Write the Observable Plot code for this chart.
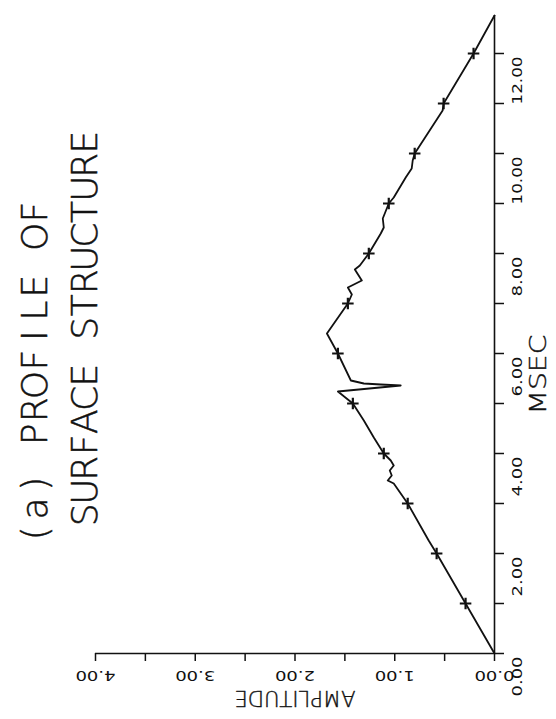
<!DOCTYPE html>
<html>
<head>
<meta charset="utf-8">
<script src="https://cdn.jsdelivr.net/npm/d3@7"></script>
<script src="https://cdn.jsdelivr.net/npm/@observablehq/plot@0.6"></script>
<style>
  html, body { margin: 0; padding: 0; background: #fff; }
  #chart svg { display: block; }
</style>
</head>
<body>
<div id="chart"></div>
<script>
// Profile curve: time (msec) and amplitude
const msec = [0.00, 1.00, 2.00, 2.26, 3.00, 3.40, 3.46, 3.56, 3.66, 3.76, 3.86, 4.00, 4.32, 4.66, 5.00,
  5.16, 5.24, 5.36, 5.38, 5.40, 5.46, 6.00, 6.40, 7.00, 7.18, 7.32, 7.46, 7.68, 7.76, 8.00, 8.40, 8.52,
  8.70, 9.00, 9.12, 9.52, 9.70, 9.86, 10.00, 10.86, 11.00, 12.00, 12.76];
const amplitude = [0.00, 0.29, 0.58, 0.66, 0.87, 1.01, 1.07, 1.03, 1.05, 1.01, 1.04, 1.11, 1.21, 1.31, 1.42,
  1.52, 1.57, 0.94, 1.14, 1.31, 1.44, 1.57, 1.68, 1.47, 1.43, 1.47, 1.33, 1.40, 1.35, 1.26, 1.14, 1.11,
  1.12, 1.06, 1.01, 0.89, 0.83, 0.82, 0.80, 0.52, 0.51, 0.21, 0.00];

// "+" markers every millisecond
const markerMsec = [1, 2, 3, 4, 5, 6, 7, 8, 9, 10, 11, 12];
const markerAmp = [0.29, 0.58, 0.87, 1.11, 1.42, 1.57, 1.47, 1.26, 1.06, 0.80, 0.51, 0.21];

// Axes
const ampTicks = [0, 0.5, 1, 1.5, 2, 2.5, 3, 3.5, 4];
const ampLabels = [0, 1, 2, 3, 4];
const msecTicks = [0, 1, 2, 3, 4, 5, 6, 7, 8, 9, 10, 11, 12];
const msecLabels = [0, 2, 4, 6, 8, 10, 12];
const msecMax = 12.76;

const titleLines = ["(a) PROFILE OF", "SURFACE STRUCTURE"];

const curve = msec.map((m, i) => ({m, a: amplitude[i]}));
const markers = markerMsec.map((m, i) => ({m, a: markerAmp[i]}));

const ink = "#111";
const font = "'DejaVu Sans', sans-serif";

const chart = Plot.plot({
  width: 556,
  height: 719,
  marginLeft: 95,
  marginRight: 62,
  marginTop: 15,
  marginBottom: 66,
  style: {fontFamily: font, color: ink, background: "#fff"},
  x: {domain: [0, 4], reverse: true},
  y: {domain: [0, msecMax]},
  marks: [
    Plot.axisX({ticks: ampTicks, anchor: "bottom", tickSize: 8, tickFormat: () => "", label: null, strokeWidth: 1.5, stroke: ink}),
    Plot.axisY({ticks: msecTicks, anchor: "right", tickSize: 9, tickFormat: () => "", label: null, strokeWidth: 1.5, stroke: ink}),
    Plot.ruleY([0], {x1: 0, x2: 4, stroke: ink, strokeWidth: 1.6}),
    Plot.ruleX([0], {y1: 0, y2: msecMax, stroke: ink, strokeWidth: 1.6}),
    Plot.text(ampLabels, {x: d => d, frameAnchor: "bottom", dy: 17, rotate: 180, text: d => d.toFixed(2), fontSize: 14, fill: ink}),
    Plot.text(msecLabels, {y: d => d, frameAnchor: "right", dx: 23, dy: 3, rotate: -90, text: d => d.toFixed(2), fontSize: 14, fill: ink}),
    Plot.text(["AMPLITUDE"], {frameAnchor: "bottom", dy: 37, rotate: 180, text: d => d, fontSize: 21, fontWeight: 200, stroke: ink, strokeWidth: 0.4, fill: ink}),
    Plot.text(["MSEC"], {frameAnchor: "right", dx: 44, rotate: -90, text: d => d, fontSize: 23, fontWeight: 200, stroke: ink, strokeWidth: 0.4, fill: ink}),
    Plot.text([titleLines[0]], {frameAnchor: "left", dx: -60, dy: 211, rotate: -90, textAnchor: "start", text: d => d, fontSize: 36, fontWeight: 200, stroke: ink, strokeWidth: 0.5, fill: ink}),
    Plot.text([titleLines[1]], {frameAnchor: "left", dx: -10, dy: 192, rotate: -90, textAnchor: "start", text: d => d, fontSize: 36, fontWeight: 200, stroke: ink, strokeWidth: 0.5, fill: ink}),
    Plot.line(curve, {x: "a", y: "m", stroke: ink, strokeWidth: 1.8}),
    Plot.dot(markers, {x: "a", y: "m", symbol: "plus", r: 3.8, stroke: ink, strokeWidth: 2.2})
  ]
});

// Plotter-style lettering: fixed pitch for the title, stretched labels
const pitch = {[titleLines[0]]: 24.7, [titleLines[1]]: 23.3};
d3.select(chart).selectAll("text").each(function() {
  const t = this.textContent;
  if (pitch[t]) {
    const p = pitch[t];
    this.setAttribute("x", Array.from(t, (c, i) => ((i + 0.5) * p).toFixed(1)).join(" "));
    this.setAttribute("text-anchor", "middle");
  } else if (/^\d+\.\d\d$/.test(t)) {
    this.setAttribute("textLength", t.length === 4 ? 40 : 48);
    this.setAttribute("lengthAdjust", "spacingAndGlyphs");
  } else if (t === "AMPLITUDE") {
    this.setAttribute("textLength", 121);
    this.setAttribute("lengthAdjust", "spacingAndGlyphs");
  } else if (t === "MSEC") {
    this.setAttribute("textLength", 80);
    this.setAttribute("lengthAdjust", "spacingAndGlyphs");
  }
});

document.getElementById("chart").append(chart);
</script>
</body>
</html>
